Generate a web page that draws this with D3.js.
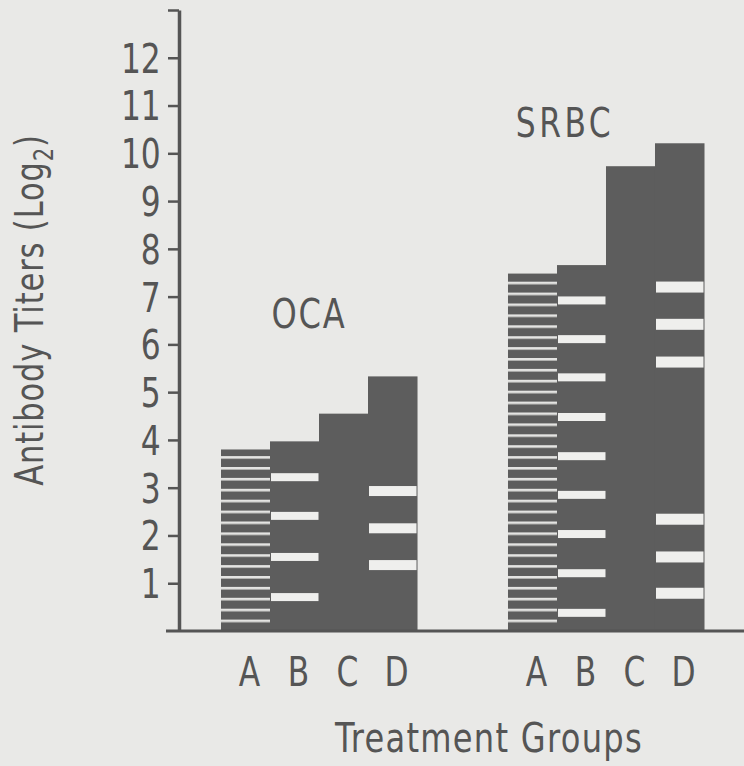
<!DOCTYPE html>
<html>
<head>
<meta charset="utf-8">
<script src="https://cdn.jsdelivr.net/npm/d3@7"></script>
<style>
  body { margin: 0; background: #e9e9e7; }
  svg { display: block; }
  text { font-family: "DejaVu Sans Condensed", "DejaVu Sans", sans-serif; fill: #555; }
</style>
</head>
<body>
<div id="chart"></div>
<script>
// data
var groups = ["OCA", "SRBC"];
var treatments = ["A", "B", "C", "D"];
var ocaTiters = [3.8, 3.97, 4.55, 5.33];
var srbcTiters = [7.49, 7.66, 9.73, 10.21];
var yTicks = [1, 2, 3, 4, 5, 6, 7, 8, 9, 10, 11, 12, 13];

// white marks inside the bars (log2 titer of each mark)
var ocaMarksB = [3.22, 2.41, 1.55, 0.71];
var ocaMarksD = [2.93, 2.15, 1.38];
var srbcMarksB = [6.92, 6.11, 5.31, 4.48, 3.66, 2.85, 2.03, 1.21, 0.38];
var srbcMarksD = [7.2, 6.42, 5.63, 2.34, 1.55, 0.79];

var width = 744, height = 766;
var barColor = "#5d5d5d", inkColor = "#555", paper = "#efefed";
var squeeze = 0.87;   // the original lettering is a condensed face

var svg = d3.select("#chart").append("svg")
    .attr("width", width)
    .attr("height", height);

var y = d3.scaleLinear().domain([0, 13]).range([631, 10]);

var xGroup = d3.scaleBand().domain(groups).range([221, 704]).paddingInner(0.317);
var xBar = d3.scaleBand().domain(treatments).range([0, xGroup.bandwidth()]);

var bars = [];
groups.forEach(function(g, gi) {
  var vals = gi === 0 ? ocaTiters : srbcTiters;
  treatments.forEach(function(t, ti) {
    bars.push({group: g, treat: t, value: vals[ti]});
  });
});

var marks = [];
function addMarks(g, t, arr, h) {
  arr.forEach(function(v) { marks.push({group: g, treat: t, value: v, h: h}); });
}
addMarks("OCA", "B", ocaMarksB, 8);
addMarks("OCA", "D", ocaMarksD, 10);
addMarks("SRBC", "B", srbcMarksB, 8);
addMarks("SRBC", "D", srbcMarksD, 11);

// fine horizontal hatching used for group A
var defs = svg.append("defs");
var pat = defs.append("pattern")
    .attr("id", "hatch")
    .attr("patternUnits", "userSpaceOnUse")
    .attr("x", 0).attr("y", y(0) - 11.4)
    .attr("width", 20).attr("height", 10.9);
pat.append("rect").attr("width", 20).attr("height", 10.9).attr("fill", barColor);
pat.append("rect").attr("y", 0).attr("width", 20).attr("height", 2.6).attr("fill", "#e4e4e2");

function barX(d) { return xGroup(d.group) + xBar(d.treat); }

svg.append("g").selectAll("rect")
  .data(bars)
  .enter().append("rect")
    .attr("x", barX)
    .attr("y", function(d) { return y(d.value); })
    .attr("width", xBar.bandwidth() + 0.5)
    .attr("height", function(d) { return y(0) - y(d.value); })
    .attr("fill", function(d) { return d.treat === "A" ? "url(#hatch)" : barColor; });

svg.append("g").selectAll("rect")
  .data(marks)
  .enter().append("rect")
    .attr("x", function(d) { return barX(d) + 1; })
    .attr("y", function(d) { return y(d.value) - d.h / 2; })
    .attr("width", xBar.bandwidth() - 1.5)
    .attr("height", function(d) { return d.h; })
    .attr("fill", paper);

// y axis
var yAxis = svg.append("g")
    .attr("transform", "translate(179,0)")
    .call(d3.axisLeft(y)
        .tickValues(yTicks)
        .tickSize(11)
        .tickSizeOuter(0)
        .tickPadding(10)
        .tickFormat(function(d) { return d === 13 ? "" : d; }));
yAxis.select(".domain").attr("stroke", inkColor).attr("stroke-width", 3.5);
yAxis.selectAll(".tick line").attr("stroke", inkColor).attr("stroke-width", 2.5);
yAxis.selectAll(".tick text")
    .style("font-size", "40px")
    .attr("dy", "0.36em")
    .attr("transform", "scale(" + squeeze + ",1)")
    .attr("fill", inkColor);

// baseline
svg.append("line")
    .attr("x1", 166).attr("x2", width)
    .attr("y1", y(0)).attr("y2", y(0))
    .attr("stroke", inkColor).attr("stroke-width", 3);

// condensed label placed at x, y (rot = rotation in degrees)
function label(x, yy, txt, size, spacing, rot) {
  return svg.append("text")
    .attr("transform", "translate(" + x + "," + yy + ")" + (rot ? " rotate(" + rot + ")" : "") +
          " scale(" + squeeze + ",1)")
    .attr("text-anchor", "middle")
    .style("font-size", size + "px")
    .style("letter-spacing", spacing + "px")
    .text(txt);
}

// treatment letters
svg.append("g").selectAll("text")
  .data(bars)
  .enter().append("text")
    .attr("transform", function(d) {
      return "translate(" + (barX(d) + xBar.bandwidth() / 2 + 4) + ",686) scale(" + squeeze + ",1)";
    })
    .attr("text-anchor", "middle")
    .style("font-size", "40px")
    .text(function(d) { return d.treat; });

// group labels
label(309, 328, "OCA", 41, 2);
label(565, 137, "SRBC", 40, 4);

// axis titles
label(489, 752, "Treatment Groups", 41, 1.5);

var yt = label(43, 310, "", 39, 1, -90);
yt.append("tspan").text("Antibody Titers (Log");
yt.append("tspan").attr("dy", 10).style("font-size", "27px").text("2");
yt.append("tspan").attr("dy", -10).text(")");
</script>
</body>
</html>
